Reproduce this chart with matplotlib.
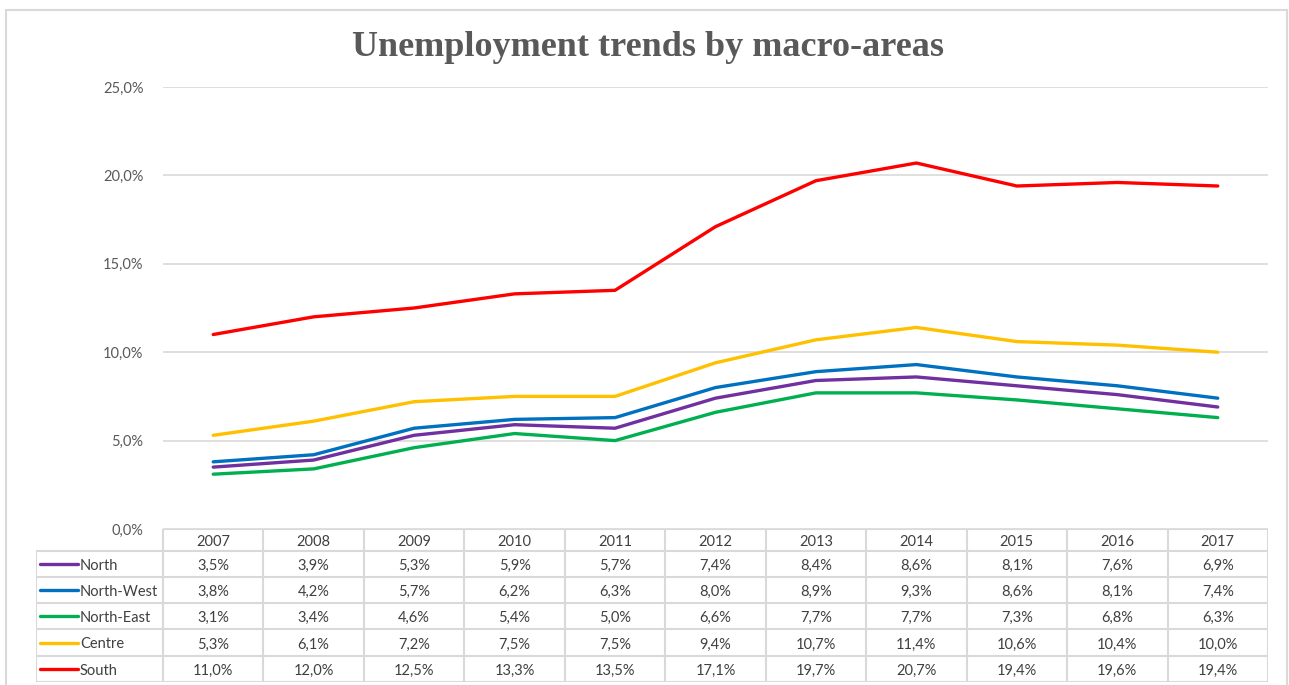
import matplotlib
matplotlib.use("Agg")
import matplotlib.pyplot as plt
from matplotlib.patches import Rectangle

# ---- data -------------------------------------------------------------
years = ["2007", "2008", "2009", "2010", "2011", "2012",
         "2013", "2014", "2015", "2016", "2017"]
north      = [3.5, 3.9, 5.3, 5.9, 5.7, 7.4, 8.4, 8.6, 8.1, 7.6, 6.9]
north_west = [3.8, 4.2, 5.7, 6.2, 6.3, 8.0, 8.9, 9.3, 8.6, 8.1, 7.4]
north_east = [3.1, 3.4, 4.6, 5.4, 5.0, 6.6, 7.7, 7.7, 7.3, 6.8, 6.3]
centre     = [5.3, 6.1, 7.2, 7.5, 7.5, 9.4, 10.7, 11.4, 10.6, 10.4, 10.0]
south      = [11.0, 12.0, 12.5, 13.3, 13.5, 17.1, 19.7, 20.7, 19.4, 19.6, 19.4]
y_ticks    = [0, 5, 10, 15, 20, 25]

series_names  = ["North", "North-West", "North-East", "Centre", "South"]
series_values = [north, north_west, north_east, centre, south]
series_colors = ["#7030A0", "#0070C0", "#00B050", "#FFC000", "#FF0000"]

title = "Unemployment trends by macro-areas"


def pct(v):
    return f"{v:.1f}%".replace(".", ",")


# ---- figure -----------------------------------------------------------
W, H = 1289, 685
fig = plt.figure(figsize=(W / 100, H / 100), dpi=100)
fig.patch.set_facecolor("white")

# chart frame
fig.add_artist(Rectangle((6 / W, -0.01), (1287 - 6) / W, 1 - 10 / H + 0.01,
                         transform=fig.transFigure, fill=False,
                         edgecolor="#d9d9d9", linewidth=1.5))

text_font = ["Lato", "DejaVu Sans"]
grid_col = "#d9d9d9"

# plot area
px_left, px_right = 163, 1268
px_top, px_bottom = 87, 529
ax = fig.add_axes([px_left / W, 1 - px_bottom / H,
                   (px_right - px_left) / W, (px_bottom - px_top) / H])
n = len(years)
x = list(range(n))
ax.set_xlim(-0.5, n - 0.5)
ax.set_ylim(0, 25)
for s in ax.spines.values():
    s.set_visible(False)
ax.set_xticks([])
ax.set_yticks(y_ticks)
ax.set_yticklabels([pct(t) for t in y_ticks], fontsize=10.5,
                   color="#595959", family=text_font)
ax.tick_params(axis="y", length=0, pad=14)
ax.yaxis.grid(True, color=grid_col, linewidth=1.2)
ax.set_axisbelow(True)

for vals, col in zip(series_values, series_colors):
    ax.plot(x, vals, color=col, linewidth=2.4, solid_joinstyle="round",
            solid_capstyle="round", zorder=3)

fig.text(648 / W, 1 - 48 / H, title, ha="center", va="center",
         fontsize=26, fontweight="bold", color="#595959",
         family=["Liberation Serif", "DejaVu Serif"])

# ---- data table -------------------------------------------------------
tbl_left, tbl_bottom = 36, 682
col_w = (px_right - px_left) / n
label_cols = (px_left - tbl_left) / col_w
tax = fig.add_axes([tbl_left / W, 1 - tbl_bottom / H,
                    (px_right - tbl_left) / W, (tbl_bottom - px_bottom) / H])
tax.set_xlim(-0.5 - label_cols, n - 0.5)
row_edges = [529, 551, 577, 603, 629, 656, 682]  # pixel rows, top to bottom
tax.set_ylim(tbl_bottom, px_bottom)  # inverted: pixel rows downward
tax.axis("off")

lc = dict(color=grid_col, linewidth=1.5, solid_capstyle="butt")
xl = -0.5 - label_cols
# horizontal rules
tax.plot([-0.5, n - 0.5], [row_edges[0]] * 2, **lc)
for r in row_edges[1:]:
    tax.plot([xl, n - 0.5], [r, r], **lc)
# vertical rules
for i in range(n + 1):
    tax.plot([i - 0.5, i - 0.5], [row_edges[0], row_edges[-1]], **lc)
tax.plot([xl, xl], [row_edges[1], row_edges[-1]], **lc)

tcol = "#404040"
for i, yr in enumerate(years):
    tax.text(i, (row_edges[0] + row_edges[1]) / 2 + 2, yr, ha="center",
             va="center", fontsize=10.5, color=tcol, family=text_font)

key_len = 38 / col_w
for r, (name, vals, col) in enumerate(zip(series_names, series_values,
                                          series_colors)):
    yc = (row_edges[r + 1] + row_edges[r + 2]) / 2
    tax.plot([xl + 4 / col_w, xl + 4 / col_w + key_len], [yc, yc],
             color=col, linewidth=2.4, solid_capstyle="round")
    tax.text(xl + 44 / col_w, yc + 2, name, ha="left", va="center",
             fontsize=10.5, color=tcol, family=text_font)
    for i, v in enumerate(vals):
        tax.text(i, yc + 2, pct(v), ha="center", va="center",
                 fontsize=10.5, color=tcol, family=text_font)

fig.savefig("out.png", dpi=100, facecolor="white")
